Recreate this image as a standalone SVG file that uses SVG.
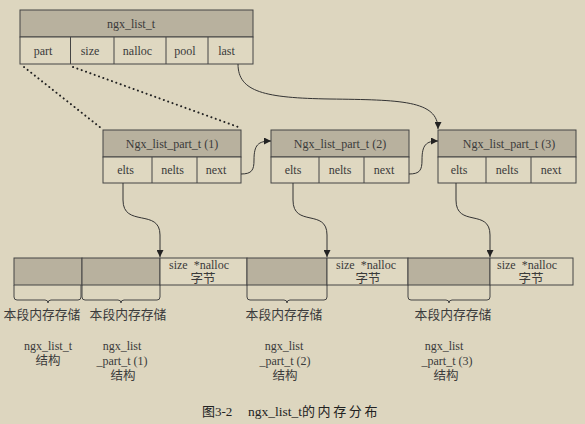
<svg xmlns="http://www.w3.org/2000/svg" width="585" height="424" viewBox="0 0 585 424">
<defs>
<marker id="ah" viewBox="0 0 10 10" refX="10" refY="5" markerWidth="7" markerHeight="7" orient="auto" markerUnits="userSpaceOnUse">
<path d="M0,0 L10,5 L0,10 z" fill="#222"/>
</marker>
<style>
.hd{fill:#b8b19e;stroke:#444;stroke-width:1}
.cell{fill:#dfd8c1;stroke:#444;stroke-width:1}
.gr{fill:#b8b19e;stroke:#444;stroke-width:1}
.t{font-family:"Liberation Serif",serif;font-size:12px;fill:#3a3a3a;text-anchor:middle;dominant-baseline:central}
.c{font-family:"Liberation Serif","Noto Sans CJK SC",serif;font-size:12.5px;fill:#3a3a3a;text-anchor:middle;dominant-baseline:central}
.cap{font-family:"Liberation Serif","Noto Sans CJK SC",serif;font-size:13.5px;fill:#222;dominant-baseline:central}
.capc{font-family:"Liberation Serif","Noto Sans CJK SC",serif;font-size:13px;fill:#222;dominant-baseline:central;letter-spacing:2.6px}
.ln{fill:none;stroke:#333;stroke-width:1}
.dot{fill:none;stroke:#222;stroke-width:2;stroke-dasharray:0.1 4.5;stroke-linecap:round}
.br{fill:none;stroke:#444;stroke-width:1}
</style>
</defs>
<rect width="585" height="424" fill="#ddd6bf"/>

<g id="ngx_list_t">
<rect class="hd" x="20" y="10" width="233" height="27"/>
<rect class="cell" x="20" y="37" width="233" height="27"/>
<line class="br" x1="70.5" y1="37" x2="70.5" y2="64"/>
<line class="br" x1="114" y1="37" x2="114" y2="64"/>
<line class="br" x1="166" y1="37" x2="166" y2="64"/>
<line class="br" x1="208" y1="37" x2="208" y2="64"/>
<text class="t" x="131" y="23.5">ngx_list_t</text>
<text class="t" x="43" y="50.5">part</text>
<text class="t" x="90" y="50.5">size</text>
<text class="t" x="137.5" y="50.5">nalloc</text>
<text class="t" x="185" y="50.5">pool</text>
<text class="t" x="226.5" y="50.5">last</text>
</g>

<g id="part1">
<rect class="hd" x="103" y="130" width="138" height="27"/>
<rect class="cell" x="103" y="157" width="138" height="26"/>
<line class="br" x1="152" y1="157" x2="152" y2="183"/>
<line class="br" x1="197" y1="157" x2="197" y2="183"/>
<text class="t" x="172" y="143.5">Ngx_list_part_t (1)</text>
<text class="t" x="125.5" y="170">elts</text>
<text class="t" x="172.5" y="170">nelts</text>
<text class="t" x="216" y="170">next</text>
</g>

<g id="part2">
<rect class="hd" x="271" y="130" width="138" height="27"/>
<rect class="cell" x="271" y="157" width="138" height="26"/>
<line class="br" x1="319" y1="157" x2="319" y2="183"/>
<line class="br" x1="364" y1="157" x2="364" y2="183"/>
<text class="t" x="340" y="143.5">Ngx_list_part_t (2)</text>
<text class="t" x="293" y="170">elts</text>
<text class="t" x="340" y="170">nelts</text>
<text class="t" x="384" y="170">next</text>
</g>

<g id="part3">
<rect class="hd" x="438" y="130" width="138" height="27"/>
<rect class="cell" x="438" y="157" width="138" height="26"/>
<line class="br" x1="486" y1="157" x2="486" y2="183"/>
<line class="br" x1="531" y1="157" x2="531" y2="183"/>
<text class="t" x="509" y="143.5">Ngx_list_part_t (3)</text>
<text class="t" x="459" y="170">elts</text>
<text class="t" x="507" y="170">nelts</text>
<text class="t" x="551" y="170">next</text>
</g>

<g id="memory">
<rect class="gr" x="14" y="258" width="68" height="27"/>
<rect class="gr" x="82" y="258" width="78" height="27"/>
<rect class="cell" x="160" y="258" width="87" height="27"/>
<rect class="gr" x="247" y="258" width="80" height="27"/>
<rect class="cell" x="327" y="258" width="81" height="27"/>
<rect class="gr" x="408" y="258" width="82" height="27"/>
<rect class="cell" x="490" y="258" width="83" height="27"/>
<text class="t" xml:space="preserve"><tspan x="199" y="265">size  *nalloc</tspan><tspan class="c" x="203" y="279">字节</tspan></text>
<text class="t" xml:space="preserve"><tspan x="366" y="265">size  *nalloc</tspan><tspan class="c" x="368" y="279">字节</tspan></text>
<text class="t" xml:space="preserve"><tspan x="527" y="265">size  *nalloc</tspan><tspan class="c" x="531" y="279">字节</tspan></text>
</g>

<g id="brackets">
<path class="br" d="M14,285 V297 Q14,300 17,300 H45 Q48,300 48,303 Q48,300 51,300 H78 Q81,300 81,297 V285"/>
<path class="br" d="M82,285 V297 Q82,300 85,300 H118 Q121,300 121,303 Q121,300 124,300 H157 Q160,300 160,297 V285"/>
<path class="br" d="M247,285 V297 Q247,300 250,300 H284 Q287,300 287,303 Q287,300 290,300 H324 Q327,300 327,297 V285"/>
<path class="br" d="M408,285 V297 Q408,300 411,300 H446 Q449,300 449,303 Q449,300 452,300 H487 Q490,300 490,297 V285"/>
<text class="c" x="42" y="315" style="font-size:12.8px">本段内存存储</text>
<text class="c" x="128" y="315" style="font-size:12.8px">本段内存存储</text>
<text class="c" x="284" y="315" style="font-size:12.8px">本段内存存储</text>
<text class="c" x="453" y="315" style="font-size:12.8px">本段内存存储</text>
</g>

<g id="labels">
<text class="t"><tspan x="48" y="345.5">ngx_list_t</tspan><tspan class="c" x="48" y="360.5">结构</tspan></text>
<text class="t"><tspan x="122" y="345.5">ngx_list</tspan><tspan x="122" y="360.5">_part_t (1)</tspan><tspan class="c" x="123" y="375.5">结构</tspan></text>
<text class="t"><tspan x="284" y="345.5">ngx_list</tspan><tspan x="285" y="360.5">_part_t (2)</tspan><tspan class="c" x="285" y="375.5">结构</tspan></text>
<text class="t"><tspan x="444" y="345.5">ngx_list</tspan><tspan x="447" y="360.5">_part_t (3)</tspan><tspan class="c" x="446" y="375.5">结构</tspan></text>
</g>

<g id="connectors">
<path class="dot" d="M24,67 L101,128"/>
<path class="dot" d="M73,67 L241,128"/>
<path class="ln" marker-end="url(#ah)" d="M238,64 C238,92 265,98 330,99 C400,100 438,100 438,129"/>
<path class="ln" marker-end="url(#ah)" d="M241,174 C252,174 254,170 254,160 C254,145 258,141 271,141"/>
<path class="ln" marker-end="url(#ah)" d="M409,174 C420,174 422,170 422,160 C422,145 426,141 438,141"/>
<path class="ln" marker-end="url(#ah)" d="M123,183 L123,200 C123,228 160,208 160,235 L160,257"/>
<path class="ln" marker-end="url(#ah)" d="M293,183 L293,200 C293,228 327,208 327,235 L327,257"/>
<path class="ln" marker-end="url(#ah)" d="M456,183 L456,200 C456,228 490,208 490,235 L490,257"/>
</g>

<g id="caption">
<text class="capc" x="202" y="411" style="letter-spacing:0">图3-2</text>
<text class="cap" x="248" y="411">ngx_list_t</text>
<text class="capc" x="302" y="411">的内存分布</text>
</g>
</svg>
